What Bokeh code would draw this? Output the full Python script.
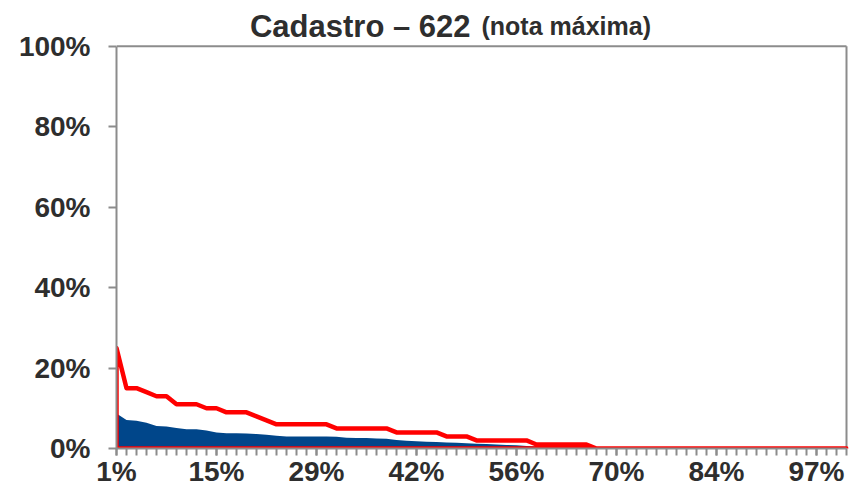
from bokeh.plotting import figure
from bokeh.models import Range1d, FixedTicker, Label
from bokeh.embed import file_html
from bokeh.resources import INLINE

# ---- data ----
positions = list(range(1, 75))  # 74 categories (percentile buckets)
x_tick_pos = positions[::10]
x_tick_labels = ["1%", "15%", "29%", "42%", "56%", "70%", "84%", "97%"]
y_ticks = [0, 20, 40, 60, 80, 100]
y_tick_labels = ["0%", "20%", "40%", "60%", "80%", "100%"]

# red series: maximum
red_max = [25, 15, 15, 14, 13, 13, 11, 11, 11, 10, 10, 9, 9, 9, 8, 7,
           6, 6, 6, 6, 6, 6, 5, 5, 5, 5, 5, 5, 4, 4, 4, 4, 4, 3, 3, 3,
           2, 2, 2, 2, 2, 2, 1, 1, 1, 1, 1, 1] + [0] * 26
# blue series (area)
blue_area = [8.7, 7.1, 6.9, 6.4, 5.6, 5.5, 5.1, 4.8, 4.8, 4.5, 4.0, 3.8,
             3.8, 3.7, 3.6, 3.4, 3.2, 3.0, 3.0, 3.0, 3.0, 3.0, 2.9, 2.7,
             2.6, 2.6, 2.5, 2.4, 2.1, 1.9, 1.8, 1.7, 1.6, 1.5, 1.4, 1.3,
             1.2, 1.1, 1.0, 0.9, 0.8, 0.6, 0.5, 0.3] + [0] * 30

title_main = "Cadastro \u2013 622"
title_sub = "(nota m\u00e1xima)"

FONT = "Liberation Sans"
TEXT_COLOR = "#2e2e2e"
AXIS_COLOR = "#8c8c8c"

# frame reaches the top of the canvas so the title can sit inside it
p = figure(frame_width=732, frame_height=448,
           x_range=Range1d(1, 74.2),
           y_range=Range1d(0, 111.4),
           output_backend="svg", toolbar_location=None,
           min_border_left=116, min_border_right=8,
           min_border_top=0, min_border_bottom=30)
p.title = None
p.background_fill_color = "white"
p.border_fill_color = "white"
p.outline_line_color = None
p.xgrid.visible = False
p.ygrid.visible = False

# top and right border of the plot area
p.segment(x0=[positions[0]], x1=[positions[-1]], y0=[y_ticks[-1]],
          y1=[y_ticks[-1]], line_color=AXIS_COLOR, line_width=2)
p.segment(x0=[positions[-1]], x1=[positions[-1]], y0=[y_ticks[0]],
          y1=[y_ticks[-1]], line_color=AXIS_COLOR, line_width=2)

# blue area
p.varea(x=positions, y1=[0] * len(positions), y2=blue_area,
        fill_color="#00468A")

# red series drawn as an outlined area
rx = [positions[0]] + positions + [positions[-1]]
ry = [0] + red_max + [0]
p.patch(x=rx, y=ry, fill_alpha=0, line_color="#FF0000", line_width=4.5,
        line_join="round")

# x axis
xa = p.xaxis[0]
xa.bounds = (positions[0], positions[-1])
xa.ticker = FixedTicker(ticks=x_tick_pos, minor_ticks=positions)
xa.major_label_overrides = {k: v for k, v in zip(x_tick_pos, x_tick_labels)}
xa.axis_line_color = AXIS_COLOR
xa.axis_line_width = 2
xa.major_tick_line_color = AXIS_COLOR
xa.minor_tick_line_color = AXIS_COLOR
xa.major_tick_line_width = 2
xa.minor_tick_line_width = 2
xa.major_tick_in = 0
xa.minor_tick_in = 0
xa.major_tick_out = 7
xa.minor_tick_out = 7
xa.major_label_standoff = 0
xa.major_label_text_font = FONT
xa.major_label_text_font_style = "bold"
xa.major_label_text_font_size = "28px"
xa.major_label_text_color = TEXT_COLOR

# y axis
ya = p.yaxis[0]
ya.bounds = (y_ticks[0], y_ticks[-1])
ya.ticker = FixedTicker(ticks=y_ticks, minor_ticks=[])
ya.major_label_overrides = {k: v for k, v in zip(y_ticks, y_tick_labels)}
ya.axis_line_color = AXIS_COLOR
ya.axis_line_width = 2
ya.major_tick_line_color = AXIS_COLOR
ya.major_tick_line_width = 2
ya.major_tick_in = 0
ya.major_tick_out = 8
ya.minor_tick_line_color = None
ya.major_label_standoff = 18
ya.major_label_text_font = FONT
ya.major_label_text_font_style = "bold"
ya.major_label_text_font_size = "28px"
ya.major_label_text_color = TEXT_COLOR

# title (two sizes), placed in data space above 100%
p.add_layout(Label(x=36.4, y=105.0, text=title_main, text_align="right",
                   text_baseline="alphabetic", text_font=FONT,
                   text_font_style="bold", text_font_size="31px",
                   text_color=TEXT_COLOR))
p.add_layout(Label(x=37.5, y=105.0, text=title_sub, text_align="left",
                   text_baseline="alphabetic", text_font=FONT,
                   text_font_style="bold", text_font_size="25px",
                   text_color=TEXT_COLOR))

open("out.html", "w").write(file_html(p, INLINE))
